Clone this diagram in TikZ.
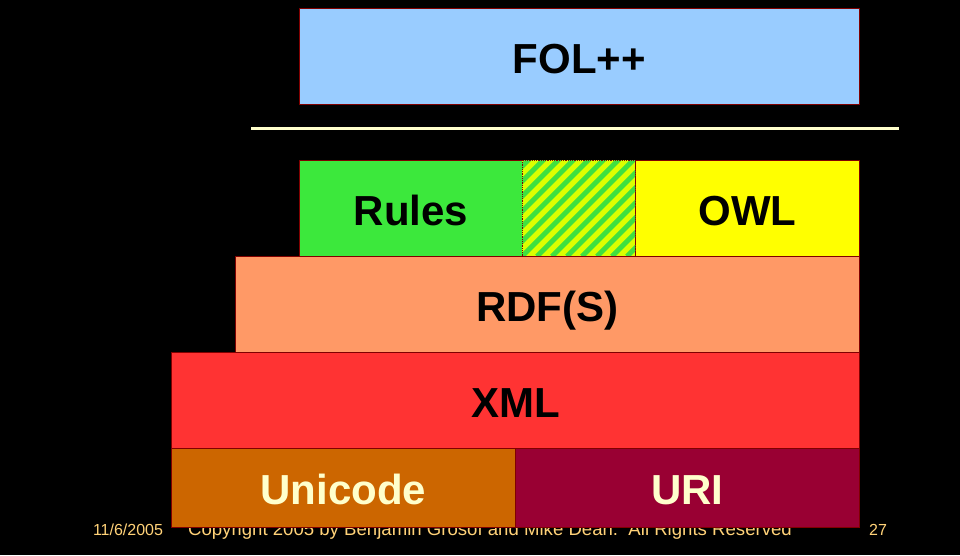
\documentclass[tikz,border=0pt]{standalone}
\usepackage{fontspec}
\setmainfont{Liberation Sans}
\setsansfont{Liberation Sans}
\usetikzlibrary{calc}
\definecolor{frame}{RGB}{128,0,0}
\definecolor{folblue}{RGB}{153,204,255}
\definecolor{rulegreen}{RGB}{60,232,60}
\definecolor{owlyellow}{RGB}{255,255,0}
\definecolor{rdforange}{RGB}{255,153,102}
\definecolor{xmlred}{RGB}{255,51,51}
\definecolor{uniorange}{RGB}{204,102,0}
\definecolor{urired}{RGB}{153,0,51}
\definecolor{cream}{RGB}{255,255,204}
\definecolor{footcol}{RGB}{255,210,120}
\definecolor{hatchy}{RGB}{220,255,0}
\definecolor{hatchg}{RGB}{64,224,64}
\begin{document}
\begin{tikzpicture}[x=1pt,y=-1pt,
  layer/.style={draw=frame,line width=0.8pt,anchor=north west,inner sep=0pt,
    text height=34pt,text depth=0pt,
    font=\fontsize{42}{46}\selectfont\bfseries},
  foot/.style={text=footcol,font=\fontsize{16}{18}\selectfont,anchor=base,inner sep=0pt}]
\fill[black] (0,0) rectangle (960,555);
\useasboundingbox (0,0) rectangle (960,555);
% footer (partly hidden behind the lowest boxes)
\node[foot] (date) at (128,535) {11/6/2005};
\node[foot,font=\fontsize{18.6}{20}\selectfont] (copy) at (490,535) {Copyright 2005 by Benjamin Grosof and Mike Dean.\ \ All Rights Reserved};
\node[foot] (page) at (878,535) {27};
% boxes
\node[layer,fill=folblue,minimum width=560,minimum height=96] (fol) at (299,8) {FOL++};
\coordinate (sepL) at (251,128.5);
\coordinate (sepR) at (899,128.5);
\draw[cream,line width=3pt] (sepL) -- (sepR);
\node[layer,fill=rulegreen,minimum width=223,minimum height=96] (rules) at (299,160) {Rules};
\node[layer,fill=owlyellow,minimum width=224,minimum height=96] (owl) at (635,160) {OWL};
\node[anchor=north west,inner sep=0pt,minimum width=113,minimum height=96] (hatch) at (522,160) {};
\fill[hatchy] (hatch.north west) rectangle (hatch.south east);
\begin{scope}
  \clip (hatch.north west) rectangle (hatch.south east);
  \foreach \k in {-8,...,16} {
    \draw[hatchg,line width=5pt] ($(hatch.south west)+(\k*15,0)$) -- ++(110,-110);
  }
\end{scope}
\draw[frame,line width=0.8pt,densely dotted] (hatch.north west) rectangle (hatch.south east);
\node[layer,fill=rdforange,minimum width=624,minimum height=96] (rdf) at (235,256) {RDF(S)};
\node[layer,fill=xmlred,minimum width=688,minimum height=96] (xml) at (171,352) {XML};
\node[layer,fill=uniorange,text=cream,minimum width=344,minimum height=79] (uni) at (171,448) {Unicode};
\node[layer,fill=urired,text=cream,minimum width=344,minimum height=79] (uri) at (515,448) {URI};
\end{tikzpicture}
\end{document}
